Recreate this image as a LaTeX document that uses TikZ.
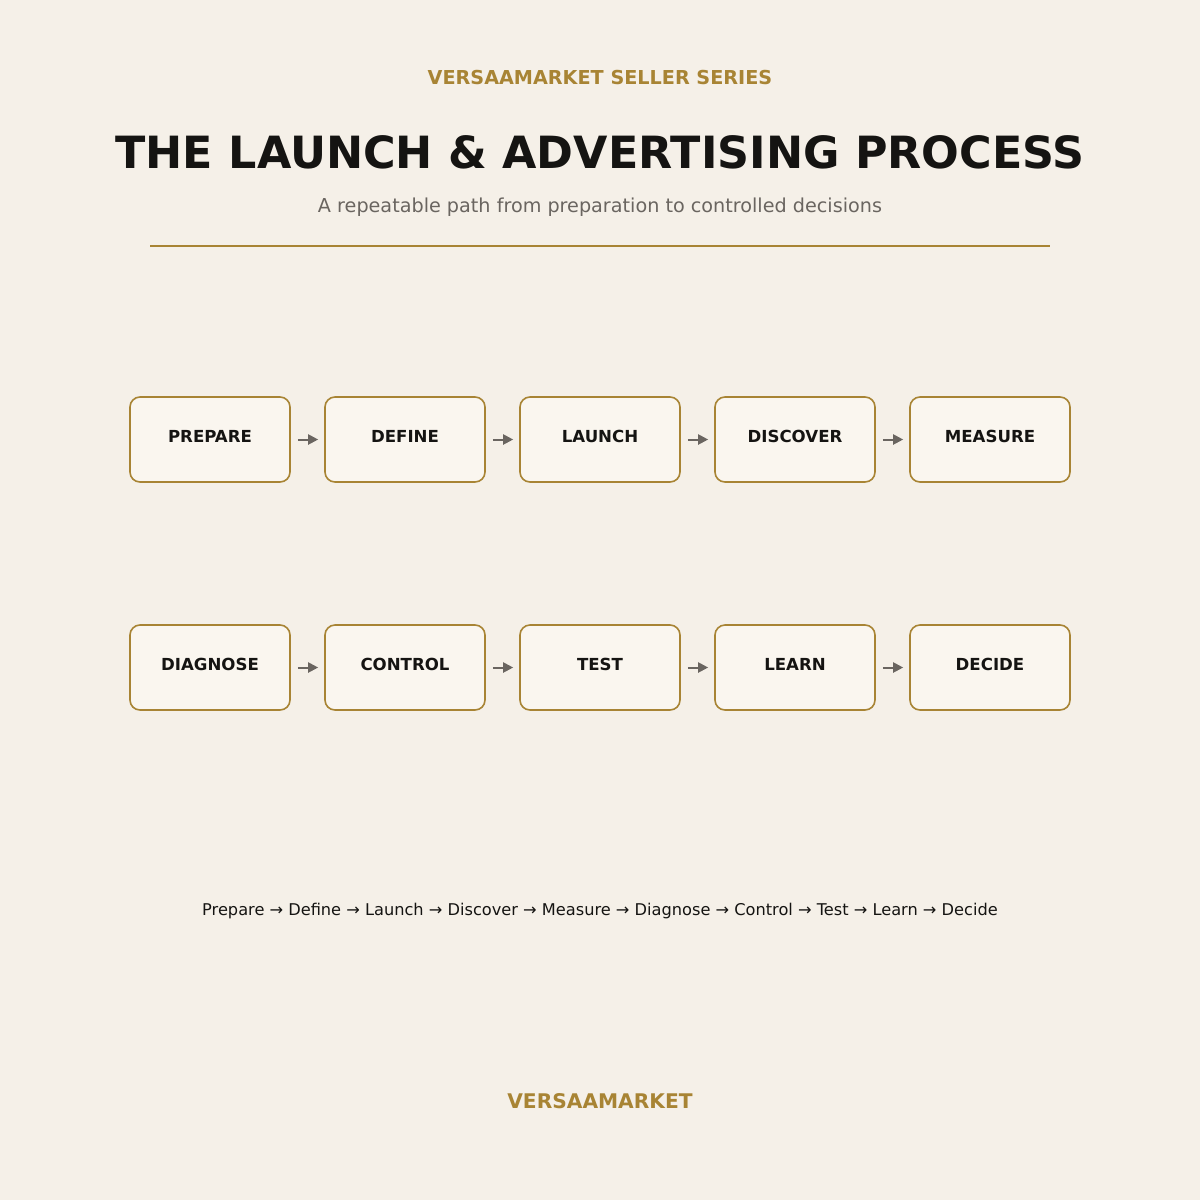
\documentclass[tikz,border=0pt]{standalone}
\usepackage{fontspec}
\setmainfont{DejaVu Sans}
\usetikzlibrary{arrows.meta}
\definecolor{bg}{HTML}{F5F0E8}
\definecolor{gold}{HTML}{A88434}
\definecolor{boxfill}{HTML}{FAF6EF}
\definecolor{ink}{HTML}{151412}
\definecolor{grayt}{HTML}{6A6560}
\tikzset{
  stage/.style={draw=gold, line width=0.8pt, fill=boxfill, rounded corners=5pt,
    minimum width=80pt, minimum height=42.5pt, inner sep=0pt},
  lbl/.style={font=\bfseries\fontsize{8.3pt}{10pt}\selectfont, text=ink, inner sep=0pt, anchor=base},
  flow/.style={draw=grayt, line width=1pt, -{Triangle[length=5pt,width=5pt]}, shorten <=3.5pt, shorten >=3pt},
}
\begin{document}
\begin{tikzpicture}[x=0.5pt,y=-0.5pt]
\fill[bg] (0,0) rectangle (1200,1200);
\useasboundingbox (0,0) rectangle (1200,1200);
\node[font=\bfseries\fontsize{9.6pt}{11pt}\selectfont, text=gold, anchor=base] (hdr) at (600,84) {VERSAAMARKET SELLER SERIES};
\node[font=\bfseries\fontsize{22.2pt}{26pt}\selectfont, text=ink, anchor=base] (title) at (600,168) {THE LAUNCH \& ADVERTISING PROCESS};
\node[font=\fontsize{9.6pt}{12pt}\selectfont, text=grayt, anchor=base] (sub) at (600,212) {A repeatable path from preparation to controlled decisions};
\coordinate (rl) at (150,246);
\coordinate (rr) at (1050,246);
\draw[gold, line width=0.9pt] (rl) -- (rr);
\foreach \name/\txt [count=\i from 0] in {a/PREPARE,b/DEFINE,c/LAUNCH,d/DISCOVER,e/MEASURE}{
  \node[stage] (\name) at (210+195*\i,439.5) {};
  \node[lbl] (\name t) at (210+195*\i,442) {\txt};
}
\foreach \name/\txt [count=\i from 0] in {f/DIAGNOSE,g/CONTROL,h/TEST,k/LEARN,m/DECIDE}{
  \node[stage] (\name) at (210+195*\i,667.5) {};
  \node[lbl] (\name t) at (210+195*\i,670) {\txt};
}
\foreach \p/\q in {a/b,b/c,c/d,d/e,f/g,g/h,h/k,k/m}{
  \draw[flow] (\p) -- (\q);
}
\node[font=\fontsize{8.1pt}{10pt}\selectfont, text=ink, anchor=base] (seq) at (600,915) {Prepare → Define → Launch → Discover → Measure → Diagnose → Control → Test → Learn → Decide};
\node[font=\bfseries\fontsize{10.1pt}{12pt}\selectfont, text=gold, anchor=base] (foot) at (600,1108) {VERSAAMARKET};
\end{tikzpicture}
\end{document}
